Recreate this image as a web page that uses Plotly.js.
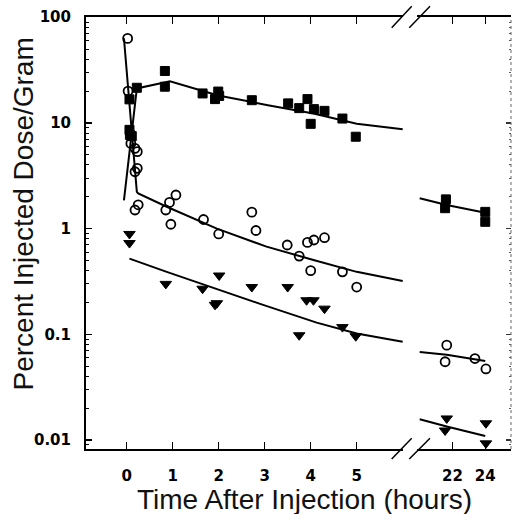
<!DOCTYPE html>
<html><head><meta charset="utf-8">
<script src="https://cdn.plot.ly/plotly-3.0.1.min.js"></script>
<style>html,body{margin:0;padding:0;background:#fff}#plot{width:514px;height:514px}</style>
</head><body><div id="plot"></div>
<script>
// ---- Filled squares (measured points) ----
const sqEarlyT = [0.06,0.06,0.07,0.11,0.22,0.83,0.83,1.65,1.92,1.99,2.01,2.72,3.51,3.75,3.93,4.07,4.0,4.30,4.69,4.98];
const sqEarlyV = [16.7,8.6,7.7,7.5,21.5,31,22,19,16.8,19.8,18,16.4,15.3,13.8,16.8,13.5,9.8,13.0,11.0,7.4];
const sqLateT = [21.6,21.55,24,24];
const sqLateV = [1.89,1.56,1.44,1.16];
// ---- Open circles ----
const ciEarlyT = [0.02,0.03,0.09,0.18,0.23,0.23,0.18,0.18,0.25,0.85,0.93,1.07,0.96,1.67,2.0,2.72,2.81,3.49,3.75,3.93,4.07,4.3,4.0,4.69,5.0];
const ciEarlyV = [63,20,6.4,5.75,5.35,3.72,3.45,1.5,1.68,1.5,1.77,2.08,1.1,1.22,0.89,1.43,0.96,0.70,0.55,0.74,0.78,0.82,0.40,0.39,0.28];
const ciLateT = [21.65,21.55,23.37,24.04];
const ciLateV = [0.079,0.055,0.059,0.047];
// ---- Filled down-triangles ----
const trEarlyT = [0.06,0.06,0.85,1.65,1.96,1.92,2.01,2.72,3.5,3.75,3.91,4.06,4.3,4.69,4.98];
const trEarlyV = [0.89,0.73,0.30,0.27,0.197,0.19,0.36,0.28,0.28,0.098,0.21,0.21,0.175,0.117,0.096];
const trLateT = [21.65,21.55,24.04,24.04];
const trLateV = [0.016,0.0123,0.0144,0.0093];
// ---- Fitted curves ----
const sqFitEarlyT = [-0.06,0.22,0.94,1.99,3.04,4.06,5.0,6.0];
const sqFitEarlyV = [1.85,21.2,24.8,18.2,14.8,12.3,9.8,8.7];
const ciFitEarlyT = [-0.06,0.22,0.25,0.87,1.96,3.04,4.06,5.0,6.0];
const ciFitEarlyV = [63,2.23,2.15,1.61,1.0,0.675,0.505,0.39,0.32];
const trFitEarlyT = [0.06,0.87,2.9,4.13,5.0,6.0];
const trFitEarlyV = [0.52,0.39,0.194,0.129,0.102,0.085];
const fitLateT = [20.0,21.65,24.0];
const sqFitLateV = [1.94,1.67,1.41];
const ciFitLateV = [0.068,0.064,0.056];
const trFitLateV = [0.0157,0.0134,0.0109];
// ---- Tick labels ----
const yTickVals = [0.01,0.1,1,10,100];
const yTickText = ['0.01','0.1','1','10','100'];
const x1TickVals = [0,1,2,3,4,5];
const x1TickText = ['0','1','2','3','4','5'];
const x2TickVals = [22,24];
const x2TickText = ['22','24'];

const minorVals = [];
for (let e = -3; e <= 2; e++) for (let d = 2; d <= 9; d++) minorVals.push(d * Math.pow(10, e));

const lineStyle = {color:'#000', width:2};
function fit(x, y, xa){ return {x:x, y:y, xaxis:xa, yaxis:'y', mode:'lines', line:lineStyle, hoverinfo:'skip', showlegend:false}; }
function pts(x, y, xa, sym, size, lw){
  return {x:x, y:y, xaxis:xa, yaxis:'y', mode:'markers', showlegend:false, cliponaxis:false,
    marker:{symbol:sym, size:size, color:'#000', line:{color:'#000', width:lw}}};
}
const traces = [
  fit(sqFitEarlyT, sqFitEarlyV, 'x'), fit(ciFitEarlyT, ciFitEarlyV, 'x'), fit(trFitEarlyT, trFitEarlyV, 'x'),
  fit(fitLateT, sqFitLateV, 'x2'), fit(fitLateT, ciFitLateV, 'x2'), fit(fitLateT, trFitLateV, 'x2'),
  pts(sqEarlyT, sqEarlyV, 'x', 'square', 9, 1), pts(ciEarlyT, ciEarlyV, 'x', 'circle-open', 9, 1.8), pts(trEarlyT, trEarlyV, 'x', 'triangle-down', 10, 1),
  pts(sqLateT, sqLateV, 'x2', 'square', 9, 1), pts(ciLateT, ciLateV, 'x2', 'circle-open', 9, 1.8), pts(trLateT, trLateV, 'x2', 'triangle-down', 10, 1),
  {x:[], y:[], xaxis:'x2', yaxis:'y2', mode:'markers', showlegend:false, hoverinfo:'skip'}
];

const tickFont = {family:'DejaVu Sans', size:15, color:'#000', weight:'bold'};
const xCommon = {
  showgrid:false, zeroline:false, showline:true, linecolor:'#000', linewidth:2, mirror:'ticks',
  ticks:'inside', ticklen:7, tickwidth:1.5, tickcolor:'#000', tickmode:'array', tickfont:tickFont,
  ticklabelstandoff:12, anchor:'y'
};
const layout = {
  width:514, height:514, paper_bgcolor:'#fff', plot_bgcolor:'#fff',
  margin:{l:86, r:3, t:17, b:65},
  xaxis: Object.assign({}, xCommon, {domain:[0,0.7459], range:[-0.885,6.007], tickvals:x1TickVals, ticktext:x1TickText}),
  xaxis2: Object.assign({}, xCommon, {domain:[0.7788,1], range:[19.835,25.57], tickvals:x2TickVals, ticktext:x2TickText}),
  yaxis: {
    type:'log', range:[-2.085,2.002], showgrid:false, zeroline:false, showline:true, linecolor:'#000', linewidth:2,
    ticks:'inside', ticklen:6, tickwidth:1.5, tickcolor:'#000', tickmode:'array', tickvals:yTickVals, ticktext:yTickText,
    tickfont:tickFont, ticklabelstandoff:10, anchor:'x',
    minor:{tickmode:'array', tickvals:minorVals, ticks:'inside', ticklen:3, tickwidth:1, tickcolor:'#000', showgrid:false}
  },
  yaxis2: {
    type:'log', range:[-2.085,2.002], overlaying:'y', side:'right', anchor:'x2', showgrid:false, zeroline:false, showline:false,
    ticks:'inside', ticklen:5, tickwidth:1.2, tickcolor:'#333', tickmode:'array', tickvals:yTickVals, showticklabels:false,
    minor:{tickmode:'array', tickvals:minorVals, ticks:'inside', ticklen:2, tickwidth:1, tickcolor:'#555', showgrid:false}
  },
  shapes: [
    {type:'line', xref:'paper', yref:'paper', x0:1, x1:1, y0:0, y1:1, line:{color:'#666', width:1, dash:'dot'}},
    {type:'line', xref:'paper', yref:'paper', x0:0.7193, y0:-0.0231, x1:0.7664, y1:0.0248, line:{color:'#000', width:1.5}},
    {type:'line', xref:'paper', yref:'paper', x0:0.7607, y0:-0.0231, x1:0.8094, y1:0.0248, line:{color:'#000', width:1.5}},
    {type:'line', xref:'paper', yref:'paper', x0:0.7193, y0:0.9752, x1:0.7664, y1:1.0248, line:{color:'#000', width:1.5}},
    {type:'line', xref:'paper', yref:'paper', x0:0.7607, y0:0.9752, x1:0.8094, y1:1.0248, line:{color:'#000', width:1.5}}
  ],
  annotations: [
    {text:'Time After Injection (hours)', xref:'paper', yref:'paper', x:0.513, y:-0.118, xanchor:'center', yanchor:'middle',
     showarrow:false, font:{family:'Liberation Sans', size:28, color:'#111'}},
    {text:'Percent Injected Dose/Gram', xref:'paper', yref:'paper', x:-0.147, y:0.544, xanchor:'center', yanchor:'middle',
     textangle:-90, showarrow:false, font:{family:'Liberation Sans', size:28, color:'#111'}}
  ]
};
Plotly.newPlot('plot', traces, layout, {displayModeBar:false, staticPlot:true});
</script>
</body></html>
